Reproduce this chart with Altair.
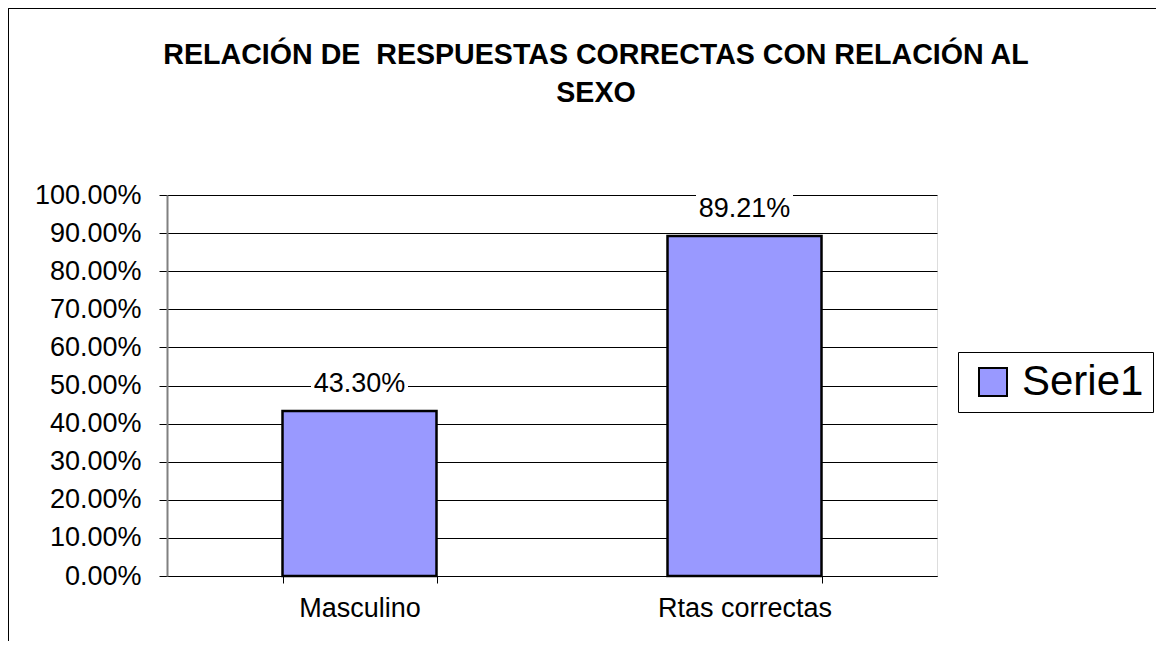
import altair as alt
import pandas as pd

categories = ["Masculino", "Rtas correctas"]
values = [0.4330, 0.8921]
series = ["Serie1", "Serie1"]
y_ticks = [0.0, 0.1, 0.2, 0.3, 0.4, 0.5, 0.6, 0.7, 0.8, 0.9, 1.0]
title_lines = ["RELACIÓN DE \u00a0RESPUESTAS CORRECTAS CON RELACIÓN AL", "SEXO"]

df = pd.DataFrame({"cat": categories, "val": values, "serie": series})

FONT = "Liberation Sans"

x = alt.X("cat:N", sort=categories, title=None,
          scale=alt.Scale(paddingInner=0.6, paddingOuter=0.3),
          axis=alt.Axis(labelAngle=0, labelFontSize=27, labelFont=FONT, labelColor="black",
                        tickBand="extent", tickSize=7, tickColor="black", domainColor="black",
                        labelPadding=12, domainWidth=1))
y = alt.Y("val:Q", title=None,
          scale=alt.Scale(domain=[0, 1], nice=False),
          axis=alt.Axis(values=y_ticks, format=".2%", labelFontSize=27, labelFont=FONT,
                        labelColor="black", tickSize=8, tickColor="black",
                        domainColor="#808080", domainWidth=2, labelPadding=18,
                        labelOverlap=False,
                        gridColor="black", gridWidth=1, gridOpacity=1))

base = alt.Chart(df)

border = base.mark_rect(filled=False, stroke="black", strokeWidth=1).encode(
    x=alt.value(-158.5), x2=alt.value(1300), y=alt.value(-186.5), y2=alt.value(800)
)

bars = base.mark_bar(stroke="black", strokeWidth=2.5).encode(
    x=x, y=y,
    color=alt.Color("serie:N", title=None,
                    scale=alt.Scale(domain=["Serie1"], range=["#9999FF"]),
                    legend=alt.Legend(orient="none", legendX=791, legendY=157,
                                      symbolType="square", symbolSize=784,
                                      symbolStrokeColor="black", symbolStrokeWidth=2,
                                      symbolOffset=5,
                                      labelFontSize=42, labelFont=FONT, labelColor="black",
                                      strokeColor="black", fillColor="white",
                                      padding=9, labelOffset=8, labelLimit=400))
)

label_bg = base.mark_tick(color="white", thickness=32, size=97, yOffset=-27, opacity=1).encode(
    x=x, y=y
)

labels = base.mark_text(fontSize=27, font=FONT, color="black", baseline="middle", dy=-27).encode(
    x=x, y=y,
    text=alt.Text("val:Q", format=".2%")
)

chart = alt.layer(border, bars, label_bg, labels).properties(
    width=770, height=381,
    title=alt.TitleParams(text=title_lines, fontSize=28.6, font=FONT, fontWeight="bold",
                          color="black", anchor="middle", dx=44, offset=-100, lineHeight=38),
    padding={"left": 159, "top": 187, "right": 219, "bottom": 65},
    autosize=alt.AutoSizeParams(type="none"),
).configure_view(
    fill="#FFFFCC", stroke="#808080", strokeWidth=2
).configure(background="white")

chart.save("out.html", embed_options={"renderer": "svg", "actions": False})
